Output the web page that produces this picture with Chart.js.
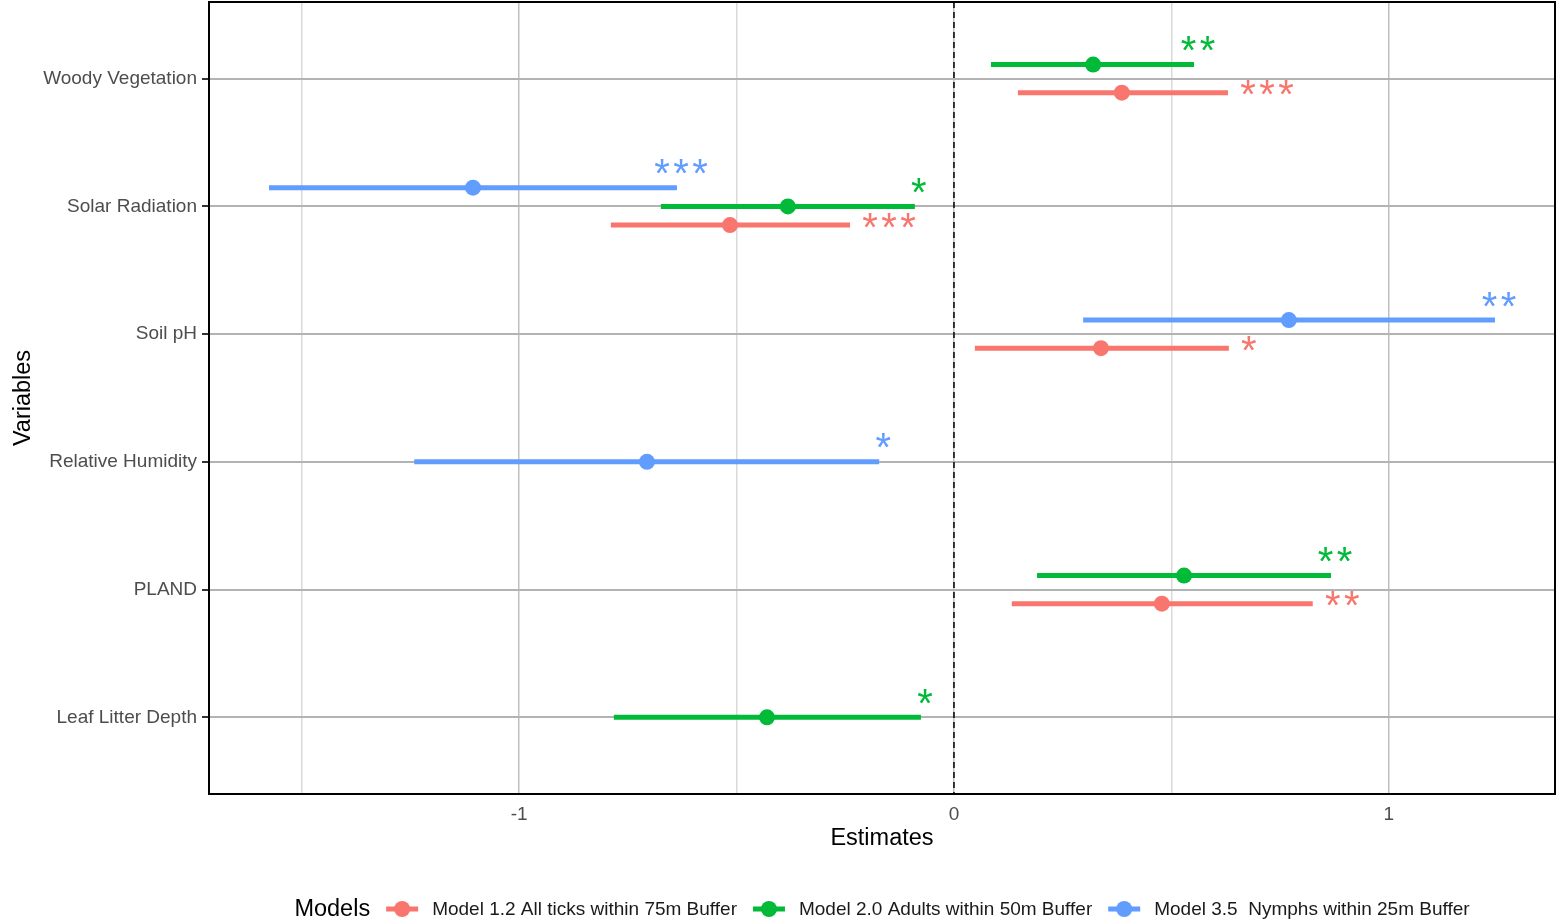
<!DOCTYPE html>
<html>
<head>
<meta charset="utf-8">
<title>Model estimates</title>
<script src="https://cdn.jsdelivr.net/npm/chart.js@4/dist/chart.umd.min.js"></script>
<style>
  html, body { margin: 0; padding: 0; background: #fff; }
  #wrap { width: 1556px; height: 924px; }
</style>
</head>
<body>
<div id="wrap"><canvas id="estChart"></canvas></div>
<script>
// ---- data ----
const variables = ["Woody Vegetation", "Solar Radiation", "Soil pH", "Relative Humidity", "PLAND", "Leaf Litter Depth"];
const modelNames = [
    "Model 1.2 All ticks within 75m Buffer",
    "Model 2.0 Adults within 50m Buffer",
    "Model 3.5  Nymphs within 25m Buffer"
];
const modelColors = ["#F8766D", "#00BA38", "#619CFF"];

// Model 1.2 (all ticks)
const m12Est = [0.386, -0.515, 0.338, null, 0.478, null];
const m12Lo  = [0.147, -0.789, 0.048, null, 0.133, null];
const m12Hi  = [0.630, -0.239, 0.632, null, 0.825, null];
const m12Sig = ["***", "***", "*", "", "**", ""];

// Model 2.0 (adults)
const m20Est = [0.320, -0.382, null, null, 0.529, -0.430];
const m20Lo  = [0.085, -0.674, null, null, 0.191, -0.782];
const m20Hi  = [0.552, -0.090, null, null, 0.867, -0.076];
const m20Sig = ["**", "*", "", "", "**", "*"];

// Model 3.5 (nymphs)
const m35Est = [null, -1.106, 0.770, -0.706, null, null];
const m35Lo  = [null, -1.575, 0.297, -1.241, null, null];
const m35Hi  = [null, -0.637, 1.244, -0.172, null, null];
const m35Sig = ["", "***", "**", "*", "", ""];

const xTicks = [-1.5, -1, -0.5, 0, 0.5, 1];
const xMin = -1.713;
const xMax = 1.382;

// ---- build ----
const FONT = '"Liberation Sans", Arial, sans-serif';

const models = [
    { name: modelNames[0], color: modelColors[0], est: m12Est, lo: m12Lo, hi: m12Hi, sig: m12Sig },
    { name: modelNames[1], color: modelColors[1], est: m20Est, lo: m20Lo, hi: m20Hi, sig: m20Sig },
    { name: modelNames[2], color: modelColors[2], est: m35Est, lo: m35Lo, hi: m35Hi, sig: m35Sig }
];

// dodge: nymphs on top, all ticks at the bottom
const stackOrder = [2, 1, 0];
const dodgeWidth = 0.44;

function dodgeY(mi, ci) {
    const present = stackOrder.filter(m => models[m].est[ci] !== null);
    const n = present.length;
    const i = present.indexOf(mi);
    return ci + 1 + (i - (n - 1) / 2) * dodgeWidth / n;
}

const datasets = [];

// dashed zero line
datasets.push({
    data: [{ x: 0, y: 0.4 }, { x: 0, y: 6.6 }],
    showLine: true,
    borderColor: "#000",
    borderWidth: 1.5,
    borderDash: [6, 4],
    pointRadius: 0,
    order: 10
});

models.forEach((m, mi) => {
    const seg = [];
    const pts = [];
    variables.forEach((v, ci) => {
        if (m.est[ci] === null) return;
        const y = dodgeY(mi, ci);
        seg.push({ x: m.lo[ci], y: y }, { x: m.hi[ci], y: y }, { x: null, y: null });
        pts.push({ x: m.est[ci], y: y });
    });
    datasets.push({
        label: m.name,
        data: seg,
        showLine: true,
        spanGaps: false,
        borderColor: m.color,
        borderWidth: 5,
        borderCapStyle: "butt",
        pointRadius: 0,
        order: 5
    });
    datasets.push({
        label: m.name,
        data: pts,
        backgroundColor: m.color,
        borderWidth: 0,
        pointRadius: 8,
        order: 1
    });
});

// significance stars + panel border
const sigStars = {
    id: "sigStars",
    afterDatasetsDraw(chart) {
        const { ctx, chartArea, scales: { x, y } } = chart;
        ctx.save();
        ctx.font = "40px " + FONT;
        const mt = ctx.measureText("*");
        const mid = (mt.actualBoundingBoxAscent - mt.actualBoundingBoxDescent) / 2;
        ctx.textAlign = "center";
        ctx.textBaseline = "alphabetic";
        const step = 19;
        models.forEach((m, mi) => {
            ctx.fillStyle = m.color;
            m.sig.forEach((s, ci) => {
                if (!s) return;
                const px = x.getPixelForValue(m.hi[ci]);
                const py = y.getPixelForValue(dodgeY(mi, ci));
                let first, ty;
                if (mi === 0) {
                    first = px + 20;
                    ty = py - 5;
                } else {
                    first = px + 4 - (s.length - 1) * step / 2;
                    ty = py - 21;
                }
                for (let k = 0; k < s.length; k++) {
                    ctx.fillText("*", first + k * step, ty + mid);
                }
            });
        });
        ctx.strokeStyle = "#000";
        ctx.lineWidth = 2;
        ctx.strokeRect(chartArea.left, chartArea.top, chartArea.right - chartArea.left, chartArea.bottom - chartArea.top);
        ctx.restore();
    }
};

// legend at the bottom
const bottomLegend = {
    id: "bottomLegend",
    afterDraw(chart) {
        const { ctx, chartArea } = chart;
        const cy = 909;
        ctx.save();
        ctx.textBaseline = "middle";
        ctx.textAlign = "left";
        ctx.font = "23.5px " + FONT;
        const titleW = ctx.measureText("Models").width;
        ctx.font = "19px " + FONT;
        const textW = models.map(m => ctx.measureText(m.name).width);
        const total = titleW + 16 + textW.reduce((a, w) => a + 32 + 14 + w, 0) + 16 * (models.length - 1);
        let cx = (chartArea.left + chartArea.right) / 2 - total / 2;

        ctx.fillStyle = "#000";
        ctx.font = "23.5px " + FONT;
        ctx.fillText("Models", cx, cy + 1);
        cx += titleW + 16;

        ctx.font = "19px " + FONT;
        models.forEach((m, i) => {
            ctx.strokeStyle = m.color;
            ctx.lineWidth = 5;
            ctx.beginPath();
            ctx.moveTo(cx, cy);
            ctx.lineTo(cx + 32, cy);
            ctx.stroke();
            ctx.fillStyle = m.color;
            ctx.beginPath();
            ctx.arc(cx + 16, cy, 8, 0, Math.PI * 2);
            ctx.fill();
            cx += 32 + 14;
            ctx.fillStyle = "#1a1a1a";
            ctx.fillText(m.name, cx, cy + 1);
            cx += textW[i] + 16;
        });
        ctx.restore();
    }
};

new Chart(document.getElementById("estChart"), {
    type: "scatter",
    data: { datasets: datasets },
    options: {
        responsive: true,
        maintainAspectRatio: false,
        animation: false,
        events: [],
        layout: { autoPadding: false, padding: { top: 2, right: 1, left: 0, bottom: 0 } },
        plugins: {
            legend: { display: false },
            tooltip: { enabled: false }
        },
        scales: {
            x: {
                type: "linear",
                min: xMin,
                max: xMax,
                afterBuildTicks: s => { s.ticks = xTicks.map(v => ({ value: v })); },
                afterFit: s => {
                    s.height = 130;
                    s.paddingLeft = 0;
                    s.paddingRight = 0;
                },
                grid: {
                    color: c => Number.isInteger(c.tick && c.tick.value) ? "#bfbfbf" : "#d9d9d9",
                    lineWidth: 1.5,
                    drawTicks: false
                },
                border: { display: false },
                ticks: {
                    callback: v => Number.isInteger(v) ? String(v) : "",
                    color: "#4d4d4d",
                    font: { size: 19, family: FONT },
                    padding: 9,
                    maxRotation: 0,
                    autoSkip: false
                },
                title: {
                    display: true,
                    text: "Estimates",
                    color: "#000",
                    font: { size: 23.5, family: FONT },
                    padding: { top: 0, bottom: 71 }
                }
            },
            y: {
                type: "linear",
                reverse: true,
                min: 0.4,
                max: 6.6,
                afterBuildTicks: s => { s.ticks = variables.map((v, i) => ({ value: i + 1 })); },
                afterFit: s => {
                    s.width = 209;
                    s.paddingTop = 0;
                    s.paddingBottom = 0;
                },
                grid: {
                    color: "#b3b3b3",
                    lineWidth: 2,
                    tickLength: 7,
                    tickColor: "#333",
                    tickWidth: 2
                },
                border: { display: false },
                ticks: {
                    callback: v => variables[v - 1],
                    color: "#4d4d4d",
                    font: { size: 19, family: FONT },
                    padding: 5,
                    autoSkip: false
                },
                title: {
                    display: true,
                    text: "Variables",
                    color: "#000",
                    font: { size: 23.5, family: FONT },
                    padding: { top: 9, bottom: 0 }
                }
            }
        }
    },
    plugins: [sigStars, bottomLegend]
});
</script>
</body>
</html>
